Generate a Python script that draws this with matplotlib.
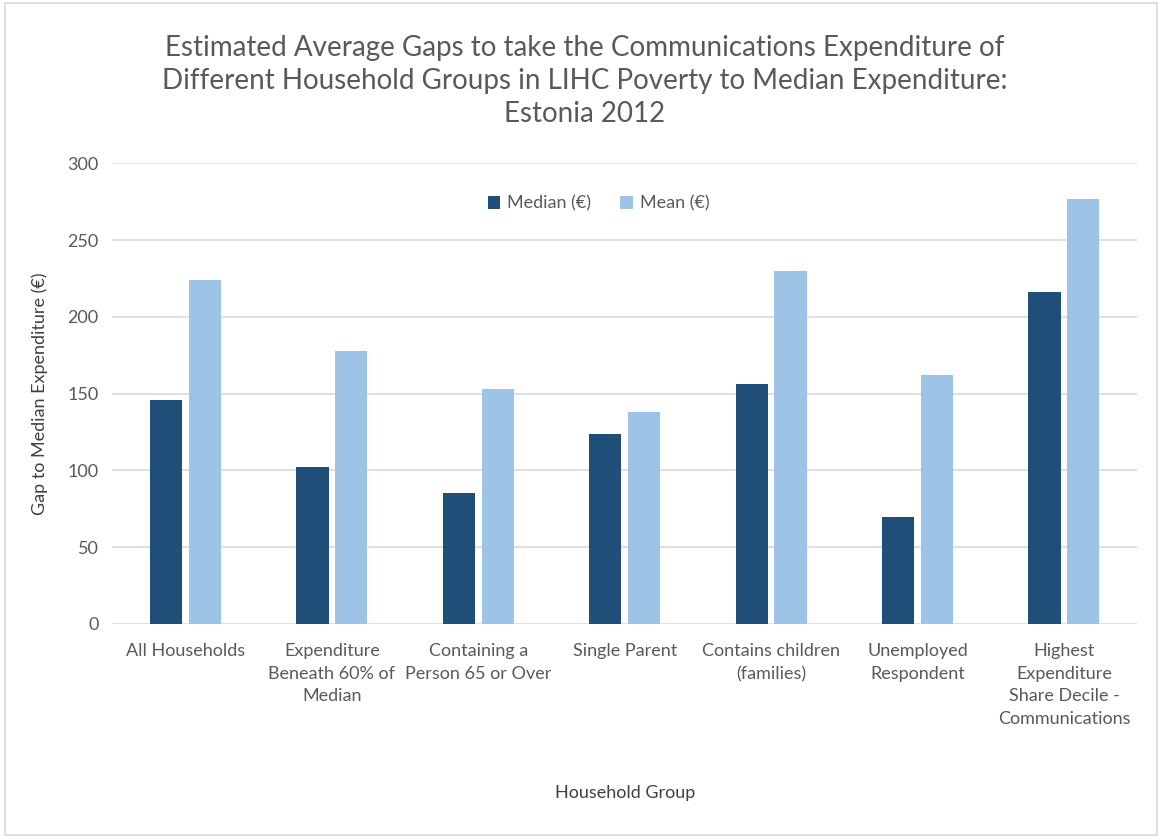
import numpy as np
import matplotlib.pyplot as plt
from matplotlib.patches import Rectangle

plt.rcParams['font.family'] = ['Lato', 'DejaVu Sans']

# Household groups and estimated gaps (EUR)
groups = [
    'All Households',
    'Expenditure\nBeneath 60% of\nMedian',
    'Containing a\nPerson 65 or Over',
    'Single Parent',
    'Contains children\n(families)',
    'Unemployed\nRespondent',
    'Highest\nExpenditure\nShare Decile -\nCommunications',
]
median_gap = [146, 102, 85, 124, 156, 70, 216]
mean_gap = [224, 178, 153, 138, 230, 162, 277]

dark_blue = '#1F4E79'
light_blue = '#9DC3E6'
text_grey = '#595959'

fig = plt.figure(figsize=(11.58, 8.38), dpi=100)
ax = fig.add_axes([0.097, 0.2554, 0.885, 0.5496])

x = np.arange(len(groups))
w = 0.22
off = 0.1325
ax.bar(x - off, median_gap, w, color=dark_blue, label='Median (€)', zorder=3)
ax.bar(x + off, mean_gap, w, color=light_blue, label='Mean (€)', zorder=3)

ax.set_xlim(-0.5, len(groups) - 0.5)
ax.set_ylim(0, 300)
ax.set_yticks(range(0, 301, 50))
ax.yaxis.grid(True, color='#D9D9D9', linewidth=1.2, zorder=0)
ax.set_axisbelow(True)
for side in ['top', 'right', 'left', 'bottom']:
    ax.spines[side].set_visible(False)
ax.tick_params(length=0, labelsize=13, colors=text_grey, pad=10)
ax.set_xticks(x)
ax.set_xticklabels(groups, linespacing=1.5)
for lbl in ax.get_xticklabels():
    lbl.set_verticalalignment('top')
ax.tick_params(axis='x', pad=14)

ax.set_ylabel('Gap to Median Expenditure (€)', fontsize=13, color='#404040', labelpad=14)
ax.set_xlabel('Household Group', fontsize=13, color='#404040', labelpad=42)

fig.text(0.505, 0.958,
         'Estimated Average Gaps to take the Communications Expenditure of\n'
         'Different Household Groups in LIHC Poverty to Median Expenditure:\n'
         'Estonia 2012',
         fontsize=20, color=text_grey, linespacing=1.32, ha='center', va='top')

ax.legend(loc='center', bbox_to_anchor=(0.517, 0.757), bbox_transform=fig.transFigure,
          ncol=2, frameon=False, fontsize=13, labelcolor=text_grey, handlelength=0.7,
          handleheight=0.7, handletextpad=0.4, columnspacing=1.6)

# thin frame around the chart area
fig.patches.append(Rectangle((0.004, 0.003), 0.995, 0.994, transform=fig.transFigure,
                             fill=False, edgecolor='#D9D9D9', linewidth=1.2))

fig.savefig('out.png', dpi=100)
